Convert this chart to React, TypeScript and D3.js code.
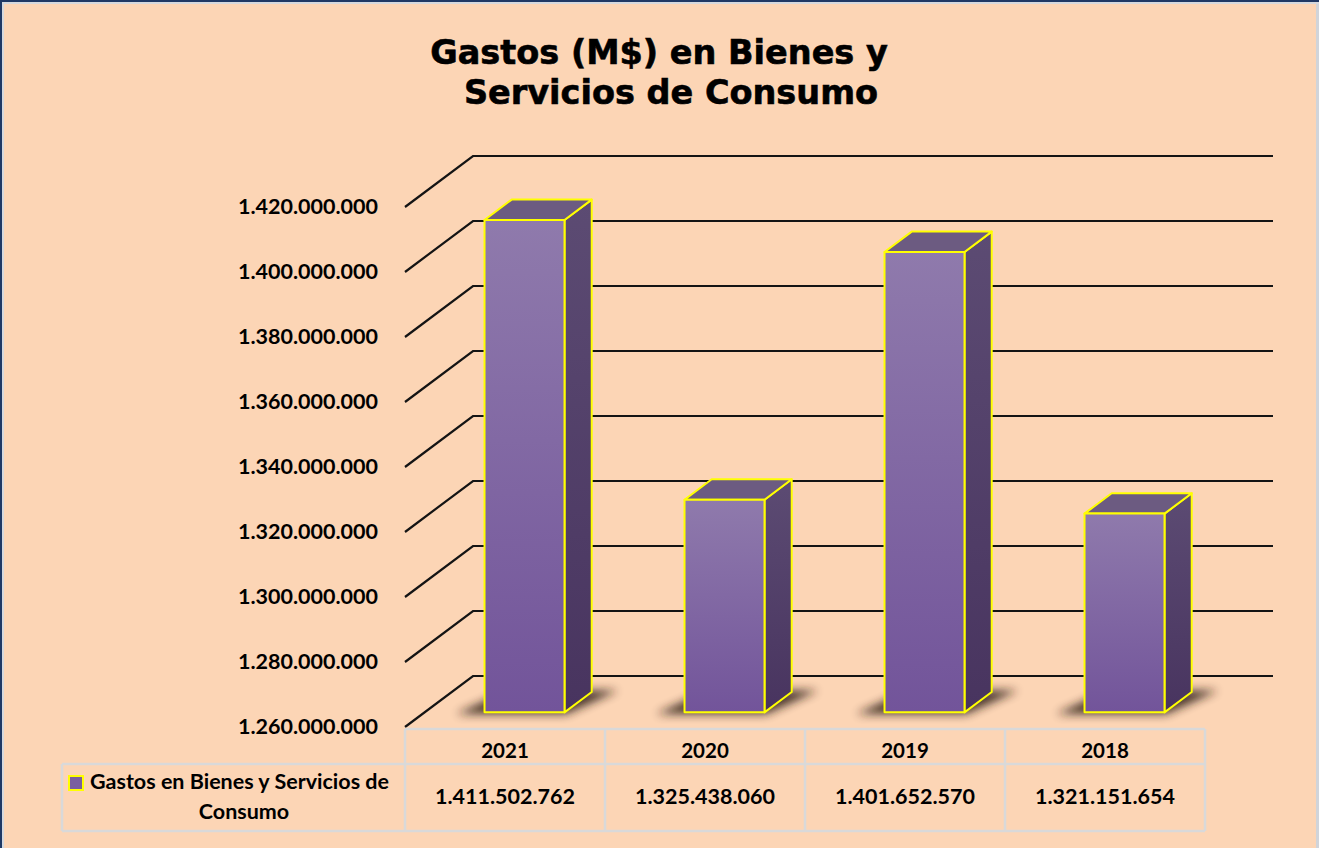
import React from "react";
import * as d3 from "d3";

const years = ["2021", "2020", "2019", "2018"];
const values = [1411502762, 1325438060, 1401652570, 1321151654];
const valueLabels = ["1.411.502.762", "1.325.438.060", "1.401.652.570", "1.321.151.654"];
const ticks = [1260e6, 1280e6, 1300e6, 1320e6, 1340e6, 1360e6, 1380e6, 1400e6, 1420e6];
const titleLines = ["Gastos (M$) en Bienes y", "Servicios de Consumo"];
const seriesName = ["Gastos en Bienes y Servicios de", "Consumo"];

const W = 1319;
const H = 848;
const DX = 68;
const DY = -51;
const D0 = 0.287;
const D1 = 0.687;

function fmt(v: number) {
  return d3.format(",")(v).replace(/,/g, ".");
}

export default function App() {
  const y = d3.scaleLinear().domain([1260e6, 1420e6]).range([727, 207]);
  const x = d3.scaleBand<string>().domain(years).range([405, 1205]);
  const bw = x.bandwidth() * 0.4;
  const proj = (px: number, v: number, d: number): [number, number] => [px + DX * d, y(v) + DY * d];
  const pts = (arr: [number, number][]) => arr.map((p) => p.join(",")).join(" ");
  const labelFont = "Lato, 'Open Sans', sans-serif";

  return (
    <div style={{ position: "absolute", left: 0, top: 0 }}>
      <svg width={W} height={H} style={{ display: "block" }}>
        <defs>
          <linearGradient id="front" x1="0" y1="0" x2="0" y2="1">
            <stop offset="0" stopColor="#8F7AAC" />
            <stop offset="1" stopColor="#72549A" />
          </linearGradient>
          <linearGradient id="side" x1="0" y1="0" x2="0" y2="1">
            <stop offset="0" stopColor="#5C4B73" />
            <stop offset="1" stopColor="#48345F" />
          </linearGradient>
          <filter id="blur" x="-50%" y="-100%" width="200%" height="300%">
            <feGaussianBlur stdDeviation="5" />
          </filter>
        </defs>
        <rect x={0} y={0} width={W} height={H} fill="#FCD5B5" />
        <rect x={0} y={0} width={W} height={2} fill="#1F3864" />
        <rect x={0} y={0} width={2} height={H} fill="#1F3864" />
        <rect x={2} y={2} width={W - 2} height={2} fill="#D6D9DE" />
        <rect x={2} y={2} width={2} height={H - 2} fill="#D6D9DE" />
        <rect x={1316} y={4} width={3} height={H - 4} fill="#D0D4DA" />

        {/* title */}
        <g fontFamily="'DejaVu Sans', Verdana, sans-serif" fontWeight="bold" fontSize={33.5} textAnchor="middle" fill="#000" stroke="#000" strokeWidth={0.6}>
          <text x={659} y={64}>{titleLines[0]}</text>
          <text x={671} y={104}>{titleLines[1]}</text>
        </g>

        {/* gridlines */}
        <g stroke="#141414" strokeWidth={2.2} fill="none">
          {ticks.map((t) => {
            const a = proj(405, t, 0);
            const b = proj(405, t, 1);
            const c = proj(1205, t, 1);
            return <polyline key={t} points={pts([a, b, c])} />;
          })}
        </g>

        {/* tick labels */}
        <g fontFamily={labelFont} fontWeight="bold" fontSize={21.5} textAnchor="end" fill="#000">
          {ticks.map((t) => (
            <text key={t} x={378} y={y(t) + 7}>{fmt(t)}</text>
          ))}
        </g>

        {/* shadows */}
        <g filter="url(#blur)" fill="#2A1A14" opacity={0.85}>
          {years.map((yr) => {
            const x0 = (x(yr) as number) + (x.bandwidth() - bw) / 2;
            const x1 = x0 + bw;
            const base = 1260e6;
            const p1 = proj(x0 - 26, base, D0 - 0.03);
            const p2 = proj(x1 + 4, base, D0 - 0.03);
            const p3 = proj(x1 + 24, base, D1 + 0.03);
            const p4 = proj(x0 - 6, base, D1 + 0.03);
            return <polygon key={yr} points={pts([p1, p2, p3, p4])} />;
          })}
        </g>

        {/* bars */}
        <g stroke="#FFFF00" strokeWidth={2} strokeLinejoin="round">
          {years.map((yr, i) => {
            const v = values[i];
            const base = 1260e6;
            const x0 = (x(yr) as number) + (x.bandwidth() - bw) / 2;
            const x1 = x0 + bw;
            const fbl = proj(x0, base, D0);
            const fbr = proj(x1, base, D0);
            const ftl = proj(x0, v, D0);
            const ftr = proj(x1, v, D0);
            const bbr = proj(x1, base, D1);
            const btr = proj(x1, v, D1);
            const btl = proj(x0, v, D1);
            return (
              <g key={yr}>
                <polygon points={pts([ftr, btr, bbr, fbr])} fill="url(#side)" />
                <polygon points={pts([ftl, btl, btr, ftr])} fill="#6C5B81" />
                <polygon points={pts([fbl, ftl, ftr, fbr])} fill="url(#front)" />
              </g>
            );
          })}
        </g>

        {/* data table */}
        <g stroke="#D9D9D9" strokeWidth={2.5} fill="none">
          <line x1={405} y1={729} x2={1205} y2={729} />
          <line x1={62} y1={764} x2={1205} y2={764} />
          <line x1={62} y1={831} x2={1205} y2={831} />
          <line x1={62} y1={764} x2={62} y2={831} />
          {years.map((yr) => (
            <line key={yr} x1={x(yr) as number} y1={729} x2={x(yr) as number} y2={831} />
          ))}
          <line x1={1205} y1={729} x2={1205} y2={831} />
        </g>
        <g fontFamily={labelFont} fontWeight="bold" textAnchor="middle" fill="#000">
          {years.map((yr, i) => (
            <g key={yr}>
              <text x={(x(yr) as number) + x.bandwidth() / 2} y={758} fontSize={20.5}>{yr}</text>
              <text x={(x(yr) as number) + x.bandwidth() / 2} y={804} fontSize={21.5}>{valueLabels[i]}</text>
            </g>
          ))}
        </g>
        {/* legend key */}
        <rect x={69} y={776} width={14} height={14} fill="#7A5FA0" stroke="#FFFF00" strokeWidth={2} />
        <g fontFamily={labelFont} fontWeight="bold" fontSize={21.5} fill="#000">
          <text x={90} y={789}>{seriesName[0]}</text>
          <text x={244} y={819} textAnchor="middle">{seriesName[1]}</text>
        </g>
      </svg>
    </div>
  );
}
